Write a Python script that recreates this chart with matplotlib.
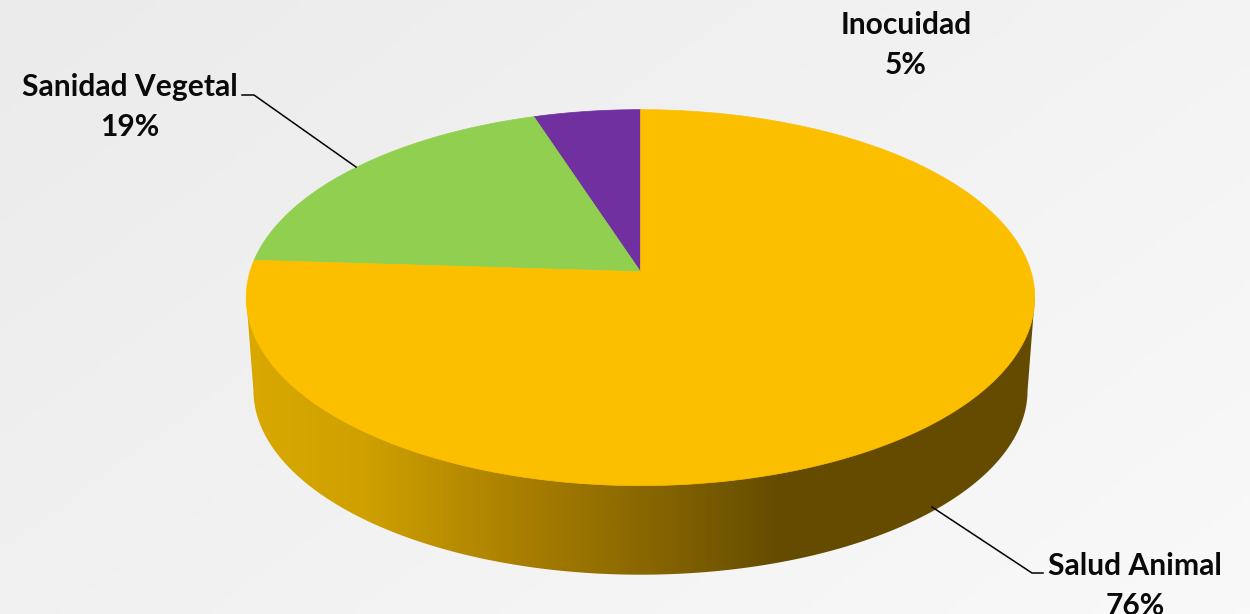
import numpy as np
import matplotlib
matplotlib.use('Agg')
import matplotlib.pyplot as plt
from matplotlib.colors import LinearSegmentedColormap
from matplotlib.patches import Polygon

# slices clockwise from 12 o'clock
labels = ['Salud Animal', 'Sanidad Vegetal', 'Inocuidad']
values = [76, 19, 5]
colors = ['#FCBF00', '#90CF4F', '#7030A0']

W, H = 1250, 614
# perspective disc, everything in image pixels
cx, cy = 640.5, 271.7
A, B, k = 390.5, 184.4, 0.138
vp_y = 5353
depth = 0.9817


def disc(frac):
    t = 2 * np.pi * np.asarray(frac)
    u, v = np.sin(t), np.cos(t)
    d = 1 + k * v
    return cx + A * u / d, cy - B * v / d


def lower(x, y):
    return cx + depth * (x - cx), vp_y + depth * (y - vp_y)


fig = plt.figure(figsize=(W / 100, H / 100), dpi=100)
ax = fig.add_axes([0, 0, 1, 1])
ax.set_xlim(0, W)
ax.set_ylim(H, 0)
ax.axis('off')

# background
xx, yy = np.meshgrid(np.linspace(0, 1, 200), np.linspace(0, 1, 100))
bg = LinearSegmentedColormap.from_list('bg', ['#EBEBEB', '#F9F9F9'])
ax.imshow(0.6 * xx + 0.4 * yy, extent=[0, W, H, 0], cmap=bg, vmin=0, vmax=1, aspect='auto', zorder=0)

# side wall
t = np.linspace(0, 1, 721)
ox, oy = disc(t)
lx, ly = lower(ox, oy)
right = np.argmax(ox)
left = np.argmin(ox)
ix = np.arange(right, left + 1)
wall = np.c_[np.r_[lx[ix], ox[left], ox[right]], np.r_[ly[ix], oy[left], oy[right]]]
stops = [(0.0, '#D9A800'), (0.15, '#CFA000'), (0.32, '#AE8300'), (0.5, '#8A6800'), (0.68, '#644B00'), (1.0, '#654C00')]
side = LinearSegmentedColormap.from_list('side', stops)
im = ax.imshow(np.linspace(0, 1, 400)[None, :], extent=[246, 1035, 580, 290], cmap=side, aspect='auto', zorder=1)
im.set_clip_path(Polygon(wall, transform=ax.transData))

# top face
order = [2, 1, 0]
edges = np.cumsum([0] + [values[i] for i in order]) / sum(values)
for n, i in enumerate(order):
    f = np.linspace(-edges[n + 1], -edges[n], 300)
    x, y = disc(f)
    ax.fill(np.r_[cx, x], np.r_[cy, y], color=colors[i], lw=0.5, zorder=2)

# leader lines
ax.plot([242, 254, 356], [95, 95, 167], color='black', lw=1.1, zorder=3)
ax.plot([932, 1032, 1043], [507, 573, 573], color='black', lw=1.1, zorder=3)

# labels
label_pos = [(1135, 586), (130, 107), (906, 45)]
for name, val, (tx, ty) in zip(labels, values, label_pos):
    ax.text(tx, ty, f'{name}\n{val}%', ha='center', va='center', family='Lato', weight='bold',
            fontsize=21.6, color='#0A0A0A', linespacing=1.54, zorder=4)

fig.savefig('out.png', dpi=100)
